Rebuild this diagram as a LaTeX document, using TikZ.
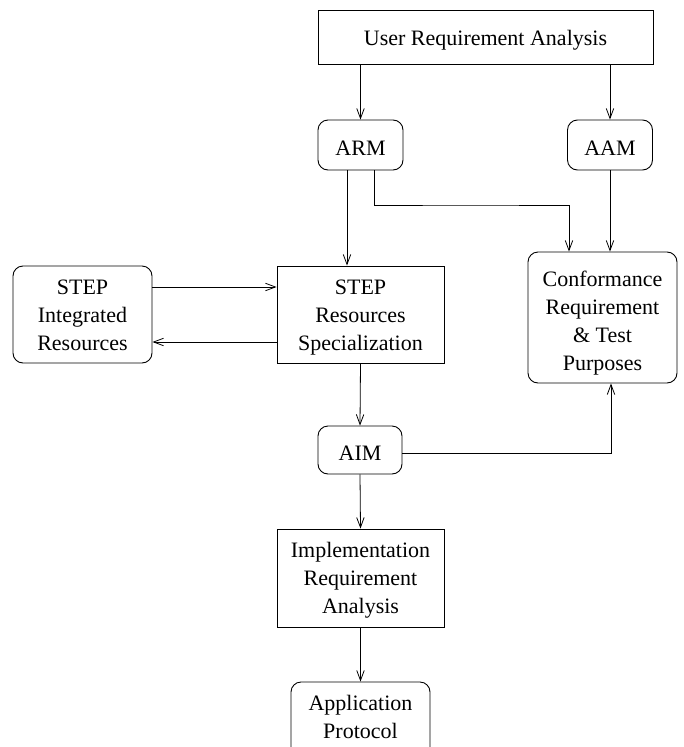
\documentclass[tikz,border=0pt]{standalone}
\usepackage{fontspec}
\setmainfont{Liberation Serif}
\usetikzlibrary{arrows.meta}
\begin{document}
\begin{tikzpicture}[x=1pt,y=-1pt,
  every node/.style={font=\fontsize{22}{28}\selectfont, align=center, inner sep=0pt, line width=0.9pt},
  every label/.style={draw=none, yshift=-3.5pt},
  sqbox/.style={draw, rectangle},
  rbox/.style={draw, rectangle, rounded corners=10pt},
  arr/.style={draw, line width=0.8pt, -{Straight Barb[length=10pt,width=7.5pt,line width=0.8pt]}}]
\useasboundingbox (0,0) rectangle (683,747);

% boxes, each with its text set as a centred label
\node[sqbox, minimum width=335pt, minimum height=54pt,
  label={center:User Requirement Analysis}] (ura) at (485.5,37) {};
\node[rbox, minimum width=85pt, minimum height=50pt,
  label={center:ARM}] (arm) at (360.5,145) {};
\node[rbox, minimum width=85pt, minimum height=50pt,
  label={center:AAM}] (aam) at (610,145) {};
\node[rbox, minimum width=149pt, minimum height=131pt,
  label={[yshift=-2pt]center:{Conformance\\Requirement\\\& Test\\Purposes}}] (conf) at (602.5,317.5) {};
\node[rbox, minimum width=139pt, minimum height=97pt,
  label={[yshift=3pt]center:{STEP\\Integrated\\Resources}}] (sir) at (82.5,314.5) {};
\node[sqbox, minimum width=167pt, minimum height=97pt,
  label={center:{STEP\\Resources\\Specialization}}] (srs) at (360.5,314.5) {};
\node[rbox, minimum width=84pt, minimum height=48pt,
  label={center:AIM}] (aim) at (360,450) {};
\node[sqbox, minimum width=167pt, minimum height=98pt,
  label={[yshift=1pt]center:{Implementation\\Requirement\\Analysis}}] (ira) at (360.5,578) {};
\node[rbox, minimum width=139pt, minimum height=97pt,
  label={[yshift=17pt]center:{Application\\Protocol}}] (ap) at (360.5,730.5) {};

% turning point of the ARM -> conformance line
\coordinate (armturn) at (470,205);

% connectors
\draw[arr] (ura.south -| arm.north) -- (arm.north);
\draw[arr] (ura.south -| aam.north) -- (aam.north);
\draw[arr] ([xshift=-13.5pt]arm.south) -- ([xshift=-13.5pt]arm.south |- srs.north);
\draw[arr] ([xshift=13.5pt]arm.south) |- (armturn) -| ([xshift=-33.5pt]conf.north);
\draw[arr] (aam.south) -- (aam.south |- conf.north);
\draw[arr] ([yshift=27.5pt]sir.east) -- ([yshift=27.5pt]srs.west);
\draw[arr] ([yshift=-27.5pt]srs.west) -- ([yshift=-27.5pt]sir.east);
\draw[arr] (srs.south) -- (aim.north);
\draw[arr] ([yshift=-3pt]aim.east) -| ([xshift=8.5pt]conf.south);
\draw[arr] (aim.south) -- (ira.north);
\draw[arr] (ira.south) -- (ap.north);
\end{tikzpicture}
\end{document}
